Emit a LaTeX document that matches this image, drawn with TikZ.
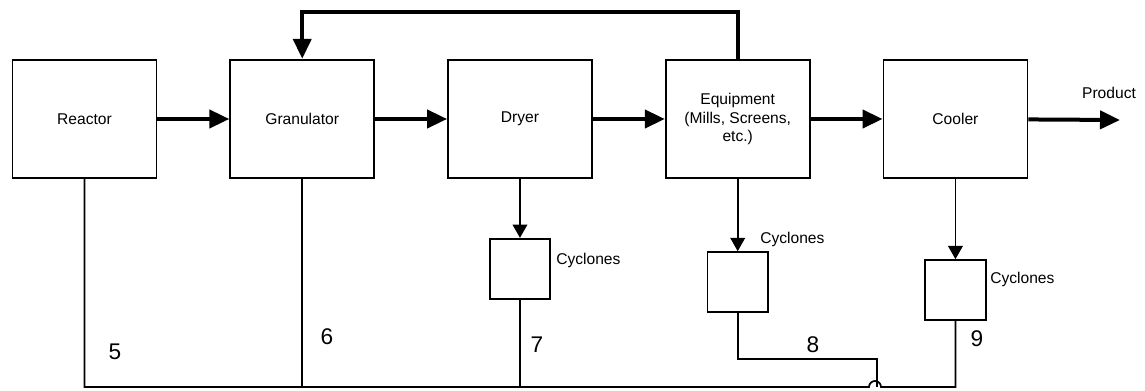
\documentclass[tikz,border=0pt]{standalone}
\usepackage{fontspec}
\setmainfont{Liberation Sans}
\usetikzlibrary{arrows.meta,positioning}

\begin{document}
\begin{tikzpicture}[
  x=0.75pt, y=-0.75pt,
  node distance=54pt,
  unit/.style={draw, line width=1.3pt, minimum width=108pt, minimum height=89pt, inner sep=0pt, align=center, font=\fontsize{11.7}{14}\selectfont},
  cyc/.style={draw, line width=1.3pt, minimum width=45.5pt, minimum height=45pt, inner sep=0pt},
  lbl/.style={font=\fontsize{11.7}{14}\selectfont, inner sep=0pt, anchor=west},
  num/.style={font=\fontsize{17}{20}\selectfont, inner sep=0pt},
  flow/.style={-{Triangle[length=15pt, width=13.5pt]}, line width=3pt},
  pipe/.style={line width=1.3pt},
  drop/.style={pipe, -{Triangle[length=10pt, width=11pt]}}
]
  \useasboundingbox (0,0) rectangle (1145,391);

  % main train
  \node[unit] (reactor) at (84.5,119) {Reactor};
  \node[unit, right=of reactor] (gran) {Granulator};
  \node[unit, right=of gran] (dryer) {Dryer};
  \node[unit, right=of dryer] (equip) {Equipment\\(Mills, Screens,\\etc.)};
  \node[unit, right=of equip] (cooler) {Cooler};
  \coordinate (prod) at (1120,120);
  \node[lbl, anchor=center] (prodlbl) at (1109,93) {Product};

  % cyclones
  \node[cyc, below=44pt of dryer] (cyc1) {};
  \node[cyc, below=54pt of equip] (cyc2) {};
  \node[cyc, below=60pt of cooler] (cyc3) {};
  \node[lbl] (cyc1lbl) at (556,260) {Cyclones};
  \node[lbl] (cyc2lbl) at (760,239) {Cyclones};
  \node[lbl] (cyc3lbl) at (990,279) {Cyclones};

  % return line
  \coordinate (bus) at (0,387);
  \coordinate (top) at (0,12);
  \coordinate (hop) at (877,387);
  \coordinate (tie) at (877,359);

  \draw[flow] (reactor) -- (gran);
  \draw[flow] (gran) -- (dryer);
  \draw[flow] (dryer) -- (equip);
  \draw[flow] (equip) -- (cooler);
  \draw[flow] (cooler) -- (prod);
  \draw[flow] (equip.north) -- (equip.north |- top) -| (gran.north);

  \draw[drop] (dryer) -- (cyc1);
  \draw[drop] (equip) -- (cyc2);
  \draw[drop] (cooler) -- (cyc3);

  \draw[pipe] (reactor.south) |- ([xshift=-6]hop) arc[start angle=180, end angle=0, radius=4.5pt] -| (cyc3.south);
  \draw[pipe] (gran.south) -- (gran.south |- bus);
  \draw[pipe] (cyc1.south) -- (cyc1.south |- bus);
  \draw[pipe] (cyc2.south) |- (tie) -- (hop);

  \node[num] (n5) at (115,352) {5};
  \node[num] (n6) at (327,337) {6};
  \node[num] (n7) at (537,345) {7};
  \node[num] (n8) at (813,345) {8};
  \node[num] (n9) at (977,339) {9};
\end{tikzpicture}
\end{document}
